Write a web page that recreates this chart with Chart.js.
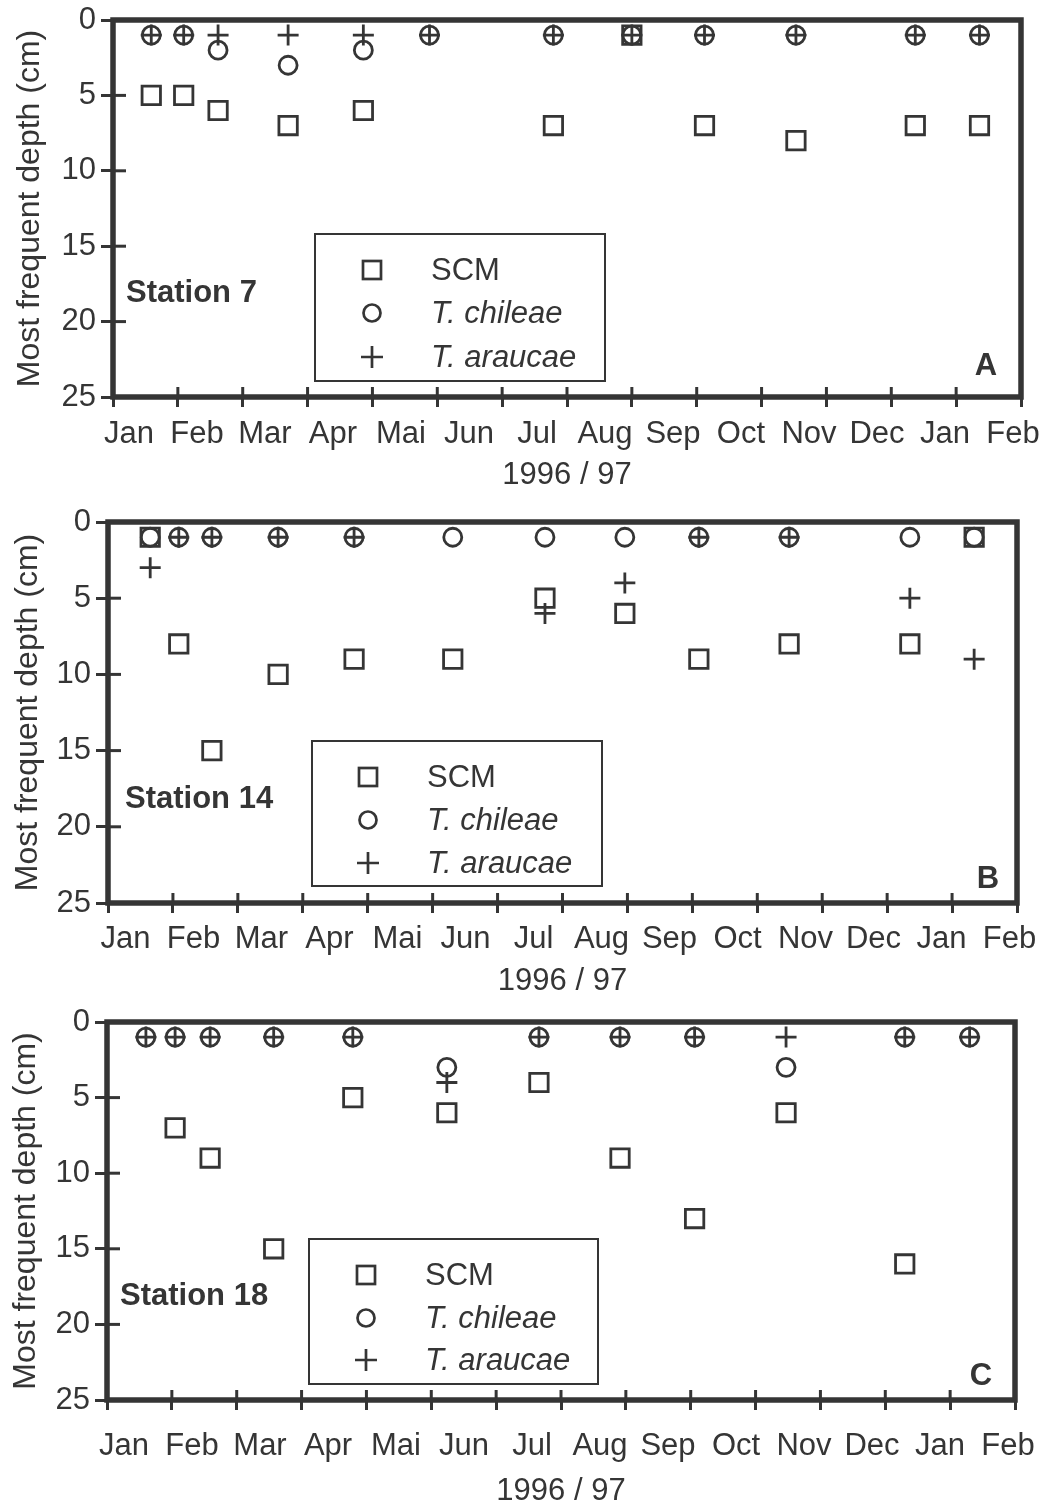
<!DOCTYPE html>
<html>
<head>
<meta charset="utf-8">
<script src="https://cdn.jsdelivr.net/npm/chart.js@4.4.1/dist/chart.umd.min.js"></script>
<style>
html,body{margin:0;padding:0;background:#fff;}
body{width:1048px;height:1504px;position:relative;overflow:hidden;font-family:'Liberation Sans',Arial,sans-serif;color:#353535;}
.panel{position:absolute;left:0;width:1048px;}
.panel canvas{position:absolute;left:0;top:0;}
.station{position:absolute;font-weight:bold;font-size:31px;line-height:34px;transform:translateY(-50%);white-space:nowrap;}
.letter{position:absolute;font-weight:bold;font-size:31px;line-height:34px;transform:translate(-50%,-50%);}
.legbox{position:absolute;border:2.5px solid #353535;box-sizing:border-box;}
.legtext{position:absolute;font-size:31px;line-height:34px;transform:translateY(-50%);white-space:nowrap;}
.legtext.it{font-style:italic;}
.sym{position:absolute;overflow:visible;}
</style>
</head>
<body>
<div class="panel" id="pA" style="top:0px;height:500px"><canvas id="cA" width="1048" height="500" style="width:1048px;height:500px"></canvas></div>
<div class="panel" id="pB" style="top:500px;height:503px"><canvas id="cB" width="1048" height="503" style="width:1048px;height:503px"></canvas></div>
<div class="panel" id="pC" style="top:1003px;height:510px"><canvas id="cC" width="1048" height="510" style="width:1048px;height:510px"></canvas></div>
<script>
// ---------- data ----------
const MONTHS = ['Jan','Feb','Mar','Apr','Mai','Jun','Jul','Aug','Sep','Oct','Nov','Dec','Jan','Feb'];
const DEPTH_TICKS = [0, 5, 10, 15, 20, 25];
const SERIES_NAMES = ['SCM', 'T. chileae', 'T. araucae'];
const X_TITLE = '1996 / 97';
const Y_TITLE = 'Most frequent depth (cm)';

// Station 7 (A) — sampling dates in months since 1 Jan 1996
const st7Dates    = [0.59, 1.09, 1.62, 2.70, 3.86, 4.88, 6.79, 8.00, 9.12, 10.53, 12.37, 13.36];
const st7SCM      = [5, 5, 6, 7, 6, null, 7, 1, 7, 8, 7, 7];
const st7Chileae  = [1, 1, 2, 3, 2, 1, 1, 1, 1, 1, 1, 1];
const st7Araucae  = [1, 1, 1, 1, 1, 1, 1, 1, 1, 1, 1, 1];

// Station 14 (B)
const st14Dates   = [0.65, 1.09, 1.60, 2.62, 3.79, 5.31, 6.73, 7.96, 9.10, 10.49, 12.35, 13.34];
const st14SCM     = [1, 8, 15, 10, 9, 9, 5, 6, 9, 8, 8, 1];
const st14Chileae = [1, 1, 1, 1, 1, 1, 1, 1, 1, 1, 1, 1];
const st14Araucae = [3, 1, 1, 1, 1, null, 6, 4, 1, 1, 5, 9];

// Station 18 (C)
const st18Dates   = [0.60, 1.05, 1.59, 2.57, 3.79, 5.24, 6.66, 7.91, 9.06, 10.47, 12.30, 13.30];
const st18SCM     = [null, 7, 9, 15, 5, 6, 4, 9, 13, 6, 16, null];
const st18Chileae = [1, 1, 1, 1, 1, 3, 1, 1, 1, 3, 1, 1];
const st18Araucae = [1, 1, 1, 1, 1, 4, 1, 1, 1, 1, 1, 1];

// ---------- styling / layout ----------
const INK = '#353535';
Chart.defaults.font.family = "'Liberation Sans', Arial, sans-serif";
Chart.defaults.color = INK;

const PANELS = [
  {key:'A', station:'Station 7', dates:st7Dates, scm:st7SCM, chil:st7Chileae, arau:st7Araucae,
   height:500, padTop:20, padRight:27, yWidth:113, xlHeight:93, labPad:9, titlePad:6, yTitlePad:11,
   labMin:-0.235, labMax:13.118,
   legend:{x:314, y:233, w:292, h:149, symX:372, textX:431, rows:[270, 313, 357]},
   stationPos:[126, 292], letterPos:[986, 365]},
  {key:'B', station:'Station 14', dates:st14Dates, scm:st14SCM, chil:st14Chileae, arau:st14Araucae,
   height:503, padTop:22, padRight:31, yWidth:108, xlHeight:90, labPad:8, titlePad:3, yTitlePad:9,
   labMin:-0.257, labMax:13.11,
   legend:{x:311, y:240, w:292, h:147, symX:368, textX:427, rows:[277, 320, 363]},
   stationPos:[125, 298], letterPos:[988, 378]},
  {key:'C', station:'Station 18', dates:st18Dates, scm:st18SCM, chil:st18Chileae, arau:st18Araucae,
   height:510, padTop:19, padRight:33, yWidth:107, xlHeight:103, labPad:18, titlePad:3, yTitlePad:7,
   labMin:-0.25, labMax:13.103,
   legend:{x:308, y:235, w:291, h:147, symX:366, textX:425, rows:[272, 315, 357]},
   stationPos:[120, 292], letterPos:[981, 372]}
];

const frameTicks = {
  id: 'frameTicks',
  afterDraw(chart) {
    const {ctx, chartArea: a, scales} = chart;
    const x = scales.x, y = scales.y;
    ctx.save();
    ctx.strokeStyle = INK;
    ctx.lineWidth = 3;
    x.ticks.forEach(t => {
      const px = x.getPixelForValue(t.value);
      ctx.beginPath(); ctx.moveTo(px, a.bottom); ctx.lineTo(px, a.bottom - 10); ctx.stroke();
    });
    y.ticks.forEach(t => {
      const py = y.getPixelForValue(t.value);
      ctx.beginPath(); ctx.moveTo(a.left, py); ctx.lineTo(a.left + 13, py); ctx.stroke();
    });
    ctx.lineWidth = 5.5;
    ctx.strokeRect(a.left, a.top, a.right - a.left, a.bottom - a.top);
    ctx.restore();
  }
};

function pts(dates, vals) {
  const out = [];
  dates.forEach((d, i) => { if (vals[i] !== null) out.push({x: d, y: vals[i]}); });
  return out;
}

const SYMBOL_SVG = [
  '<rect x="-9" y="-9" width="18" height="18" fill="none" stroke="' + INK + '" stroke-width="2.7"/>',
  '<circle cx="0" cy="0" r="8.5" fill="none" stroke="' + INK + '" stroke-width="2.7"/>',
  '<path d="M-11 0H11M0 -11V11" fill="none" stroke="' + INK + '" stroke-width="2.7"/>'
];

PANELS.forEach(P => {
  const panel = document.getElementById('p' + P.key);
  const ctx = document.getElementById('c' + P.key);
  new Chart(ctx, {
    type: 'scatter',
    data: {
      datasets: [
        {label: SERIES_NAMES[0], data: pts(P.dates, P.scm), pointStyle: 'rect', pointRadius: 13,
         borderColor: INK, backgroundColor: 'rgba(0,0,0,0)', borderWidth: 2.8},
        {label: SERIES_NAMES[1], data: pts(P.dates, P.chil), pointStyle: 'circle', pointRadius: 9,
         borderColor: INK, backgroundColor: 'rgba(0,0,0,0)', borderWidth: 2.8},
        {label: SERIES_NAMES[2], data: pts(P.dates, P.arau), pointStyle: 'cross', pointRadius: 10.5,
         borderColor: INK, backgroundColor: 'rgba(0,0,0,0)', borderWidth: 2.8}
      ]
    },
    options: {
      responsive: false,
      devicePixelRatio: 1,
      animation: false,
      events: [],
      layout: {padding: {top: P.padTop, right: P.padRight, left: 0, bottom: 0}},
      plugins: {legend: {display: false}, tooltip: {enabled: false}},
      scales: {
        x: {
          type: 'linear', position: 'bottom', min: 0, max: MONTHS.length, weight: 0,
          afterBuildTicks: s => { s.ticks = Array.from({length: MONTHS.length + 1}, (_, i) => ({value: i})); },
          ticks: {display: false},
          grid: {display: true, drawOnChartArea: false, drawTicks: true, tickLength: 10, tickWidth: 3, tickColor: INK},
          border: {display: false},
          afterFit: s => { s.height = 10; s.paddingLeft = 0; s.paddingRight = 0; }
        },
        xl: {
          type: 'linear', position: 'bottom', min: P.labMin, max: P.labMax, weight: 1,
          afterBuildTicks: s => { s.ticks = MONTHS.map((m, i) => ({value: i})); },
          ticks: {
            autoSkip: false, maxRotation: 0, minRotation: 0, padding: P.labPad,
            font: {size: 31}, color: INK,
            callback: v => MONTHS[v]
          },
          grid: {display: false, drawTicks: false},
          border: {display: false},
          title: {display: true, text: X_TITLE, font: {size: 31}, color: INK, padding: {top: 0, bottom: P.titlePad}},
          afterFit: s => { s.height = P.xlHeight; s.paddingLeft = 0; s.paddingRight = 0; }
        },
        y: {
          type: 'linear', position: 'left', reverse: true, min: 0, max: 25,
          afterBuildTicks: s => { s.ticks = DEPTH_TICKS.map(v => ({value: v})); },
          ticks: {font: {size: 31}, color: INK, padding: 5},
          grid: {display: true, drawOnChartArea: false, drawTicks: true, tickLength: 12, tickWidth: 3, tickColor: INK},
          border: {display: false},
          title: {display: true, text: Y_TITLE, font: {size: 32}, color: INK, padding: {top: P.yTitlePad, bottom: 0}},
          afterFit: s => { s.width = P.yWidth; s.paddingTop = 0; s.paddingBottom = 0; }
        }
      }
    },
    plugins: [frameTicks]
  });

  // station label
  const st = document.createElement('div');
  st.className = 'station';
  st.textContent = P.station;
  st.style.left = P.stationPos[0] + 'px';
  st.style.top = P.stationPos[1] + 'px';
  panel.appendChild(st);

  // panel letter
  const lt = document.createElement('div');
  lt.className = 'letter';
  lt.textContent = P.key;
  lt.style.left = P.letterPos[0] + 'px';
  lt.style.top = P.letterPos[1] + 'px';
  panel.appendChild(lt);

  // legend
  const L = P.legend;
  const box = document.createElement('div');
  box.className = 'legbox';
  Object.assign(box.style, {left: L.x + 'px', top: L.y + 'px', width: L.w + 'px', height: L.h + 'px'});
  panel.appendChild(box);
  SERIES_NAMES.forEach((name, i) => {
    const svgNS = 'http://www.w3.org/2000/svg';
    const svg = document.createElementNS(svgNS, 'svg');
    svg.setAttribute('class', 'sym');
    svg.setAttribute('width', '26');
    svg.setAttribute('height', '26');
    svg.setAttribute('viewBox', '-13 -13 26 26');
    svg.style.left = (L.symX - 13) + 'px';
    svg.style.top = (L.rows[i] - 13) + 'px';
    svg.innerHTML = SYMBOL_SVG[i];
    panel.appendChild(svg);
    const tx = document.createElement('div');
    tx.className = 'legtext' + (i > 0 ? ' it' : '');
    tx.textContent = name;
    tx.style.left = L.textX + 'px';
    tx.style.top = L.rows[i] + 'px';
    panel.appendChild(tx);
  });
});
</script>
</body>
</html>
